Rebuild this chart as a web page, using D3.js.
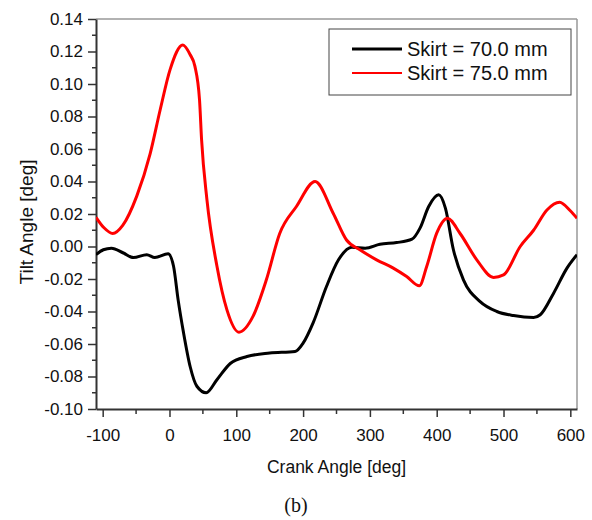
<!DOCTYPE html>
<html>
<head>
<meta charset="utf-8">
<script src="https://cdn.jsdelivr.net/npm/d3@7/dist/d3.min.js"></script>
<style>
  body { margin: 0; background: #fff; }
  text { font-family: "Liberation Sans", Arial, sans-serif; fill: #111; }
</style>
</head>
<body>
<div id="chart"></div>
<script>
var ctx = {
    w: 592,
    h: 520,
    left: 96,
    top: 19,
    right: 577,
    bottom: 409
};

// Skirt = 70.0 mm
var angle70 = [-110, -99, -87, -69, -54, -34, -22, -2, 6, 13, 21, 31, 41, 55, 71, 91, 116, 150, 188, 200, 215, 235, 253, 273, 293, 315, 340, 363, 375, 388, 403, 413, 425, 440, 465, 490, 515, 545, 555, 575, 595, 610];
var tilt70 = [-0.005, -0.002, -0.001, -0.004, -0.0068, -0.005, -0.0068, -0.0045, -0.012, -0.033, -0.053, -0.074, -0.086, -0.090, -0.082, -0.072, -0.0677, -0.0656, -0.0646, -0.0595, -0.047, -0.0246, -0.0082, -0.0004, -0.001, 0.0014, 0.0024, 0.0045, 0.0113, 0.0246, 0.0318, 0.0236, -0.002, -0.0205, -0.0339, -0.040, -0.0425, -0.0437, -0.042, -0.0287, -0.0133, -0.005];

// Skirt = 75.0 mm
var angle75 = [-110, -98, -85, -70, -49, -29, -14, 1, 20, 31, 38, 45, 48, 56, 71, 86, 104, 125, 145, 165, 190, 218, 245, 265, 285, 310, 335, 355, 374, 385, 400, 416, 435, 460, 485, 500, 525, 545, 565, 584, 600, 610];
var tilt75 = [0.018, 0.0115, 0.008, 0.013, 0.031, 0.057, 0.084, 0.109, 0.124, 0.118, 0.111, 0.090, 0.066, 0.029, -0.012, -0.039, -0.0527, -0.043, -0.0205, 0.008, 0.0246, 0.040, 0.0205, 0.004, -0.002, -0.0082, -0.0133, -0.0185, -0.0242, -0.0123, 0.0082, 0.0174, 0.008, -0.0082, -0.019, -0.0175, 0.0, 0.010, 0.0225, 0.0273, 0.022, 0.0174];

var xTicks = [-100, 0, 100, 200, 300, 400, 500, 600];
var yTicks = [-0.10, -0.08, -0.06, -0.04, -0.02, 0.00, 0.02, 0.04, 0.06, 0.08, 0.10, 0.12, 0.14];
var seriesNames = ["Skirt = 70.0 mm", "Skirt = 75.0 mm"];
var seriesColors = ["#000000", "#ff0000"];

var svg = d3.select("#chart").append("svg")
    .attr("width", ctx.w)
    .attr("height", ctx.h);

svg.append("rect").attr("width", ctx.w).attr("height", ctx.h).attr("fill", "#fff");

var x = d3.scaleLinear().domain([-110, 610]).range([ctx.left, ctx.right]);
var y = d3.scaleLinear().domain([-0.10, 0.14]).range([ctx.bottom, ctx.top]);

// frame top / right
svg.append("line")
    .attr("x1", ctx.left).attr("x2", ctx.right)
    .attr("y1", ctx.top).attr("y2", ctx.top)
    .attr("stroke", "#999").attr("stroke-width", 1.5);
svg.append("line")
    .attr("x1", ctx.right).attr("x2", ctx.right)
    .attr("y1", ctx.top).attr("y2", ctx.bottom)
    .attr("stroke", "#999").attr("stroke-width", 1.5);

// minor ticks
var xMinor = d3.range(-50, 601, 100);
var yMinor = d3.range(-0.09, 0.14, 0.02);

var xAxis = svg.append("g")
    .attr("transform", "translate(0," + ctx.bottom + ")")
    .call(d3.axisBottom(x).tickValues(xTicks).tickSize(8).tickSizeOuter(0).tickPadding(12));
xAxis.append("g").selectAll("line").data(xMinor).enter().append("line")
    .attr("x1", function (d) { return x(d); })
    .attr("x2", function (d) { return x(d); })
    .attr("y1", 0).attr("y2", 5)
    .attr("stroke", "#333").attr("stroke-width", 1.5);

var yAxis = svg.append("g")
    .attr("transform", "translate(" + ctx.left + ",0)")
    .call(d3.axisLeft(y).tickValues(yTicks).tickSize(8).tickSizeOuter(0).tickPadding(5));
yAxis.append("g").selectAll("line").data(yMinor).enter().append("line")
    .attr("y1", function (d) { return y(d); })
    .attr("y2", function (d) { return y(d); })
    .attr("x1", 0).attr("x2", -4)
    .attr("stroke", "#333").attr("stroke-width", 1.5);

svg.selectAll(".domain").attr("stroke", "#333").attr("stroke-width", 2);
svg.selectAll(".tick line").attr("stroke", "#333").attr("stroke-width", 1.5);
svg.selectAll(".tick text")
    .style("font-family", "'Liberation Sans', Arial, sans-serif")
    .style("font-size", "17px")
    .attr("fill", "#111");

// plain hyphen minus like the original
yAxis.selectAll(".tick text").text(function (d) { return d.toFixed(2); });
xAxis.selectAll(".tick text").text(function (d) { return String(d); });

// clip for lines
svg.append("clipPath").attr("id", "plotclip")
    .append("rect")
    .attr("x", ctx.left).attr("y", ctx.top)
    .attr("width", ctx.right - ctx.left).attr("height", ctx.bottom - ctx.top);

var line = d3.line()
    .x(function (d) { return x(d[0]); })
    .y(function (d) { return y(d[1]); })
    .curve(d3.curveMonotoneX);

var series = [d3.zip(angle70, tilt70), d3.zip(angle75, tilt75)];

svg.append("g").attr("clip-path", "url(#plotclip)")
    .selectAll("path")
    .data(series)
    .enter()
    .append("path")
    .attr("d", line)
    .attr("fill", "none")
    .attr("stroke", function (d, i) { return seriesColors[i]; })
    .attr("stroke-width", 3)
    .attr("stroke-linejoin", "round");

// axis titles
svg.append("text")
    .attr("x", (ctx.left + ctx.right) / 2)
    .attr("y", 473)
    .attr("text-anchor", "middle")
    .style("font-size", "17.5px")
    .text("Crank Angle [deg]");

svg.append("text")
    .attr("transform", "translate(33,222) rotate(-90)")
    .attr("text-anchor", "middle")
    .style("font-size", "19px")
    .text("Tilt Angle [deg]");

svg.append("text")
    .attr("x", 296)
    .attr("y", 512)
    .attr("text-anchor", "middle")
    .style("font-family", "'Liberation Serif', 'Times New Roman', serif")
    .style("font-size", "20px")
    .text("(b)");

// legend
var legend = svg.append("g");
legend.append("rect")
    .attr("x", 329).attr("y", 29)
    .attr("width", 242).attr("height", 66)
    .attr("fill", "#fff")
    .attr("stroke", "#444")
    .attr("stroke-width", 1);

legend.selectAll(".item")
    .data(seriesNames)
    .enter()
    .append("g")
    .attr("class", "item")
    .each(function (d, i) {
        var g = d3.select(this);
        var yy = 49 + i * 24;
        g.append("line")
            .attr("x1", 352).attr("x2", 402)
            .attr("y1", yy).attr("y2", yy)
            .attr("stroke", seriesColors[i])
            .attr("stroke-width", i == 0 ? 3 : 2);
        g.append("text")
            .attr("x", 407).attr("y", yy + 7)
            .style("font-size", "20px")
            .text(d);
    });
</script>
</body>
</html>
